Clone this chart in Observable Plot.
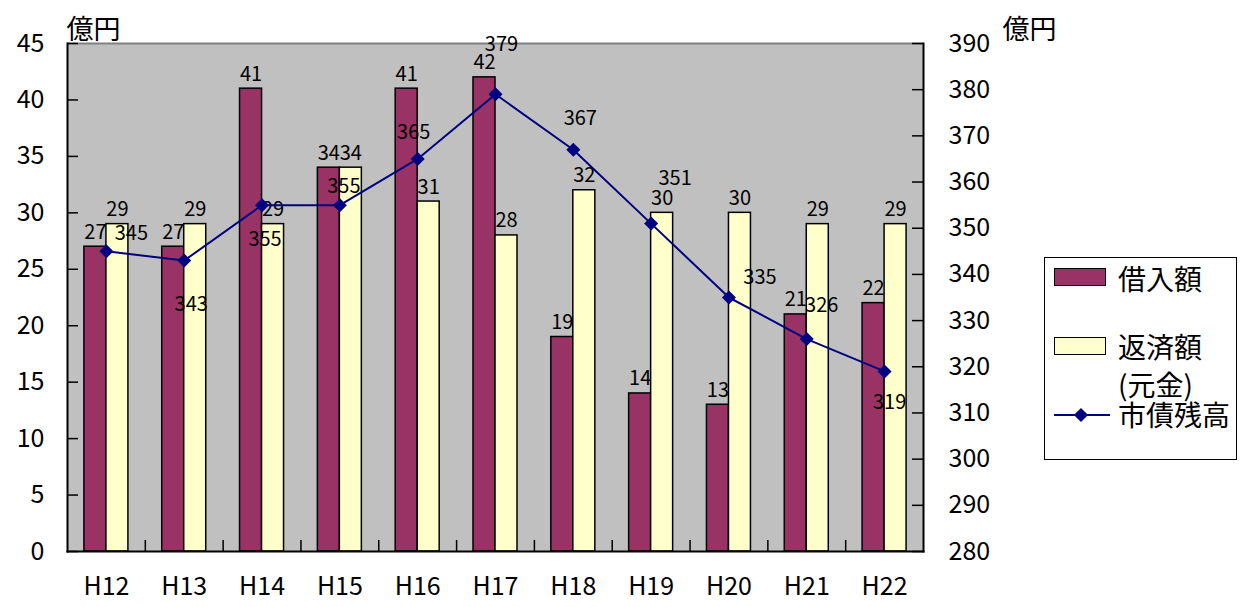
<!DOCTYPE html>
<html><head><meta charset="utf-8">
<script src="https://cdn.jsdelivr.net/npm/d3@7"></script>
<script src="https://cdn.jsdelivr.net/npm/@observablehq/plot@0.6"></script>
<style>
body{margin:0;background:#fff;font-family:"Noto Sans CJK JP",sans-serif;}
#wrap{position:relative;width:1248px;height:607px;overflow:hidden;}
#legend{position:absolute;left:1044px;top:257px;width:193px;height:203px;border:1.5px solid #000;box-sizing:border-box;background:#fff;}
#legend .sw{position:absolute;left:9px;width:52px;height:18px;border:1.5px solid #000;box-sizing:border-box;}
#legend .tx{position:absolute;left:73px;font-size:28px;line-height:28px;color:#000;white-space:nowrap;}
#legend .ln{position:absolute;left:9px;width:56px;height:2px;background:#000080;}
#legend .dm{position:absolute;width:10px;height:10px;background:#000080;transform:rotate(45deg);}
</style></head><body>
<div id="wrap">
<div id="chart"></div>
<div id="legend"></div>
</div>
<script>
// ---- data ----
const years = ["H12","H13","H14","H15","H16","H17","H18","H19","H20","H21","H22"];
const borrow = [27,27,41,34,41,42,19,14,13,21,22];           // 借入額
const repay = [29,29,29,34,31,28,32,30,30,29,29];            // 返済額(元金)
const balance = [345,343,355,355,365,379,367,351,335,326,319]; // 市債残高
const leftTicks = [0,5,10,15,20,25,30,35,40,45];
const rightTicks = [280,290,300,310,320,330,340,350,360,370,380,390];
const seriesNames = ["借入額","返済額","(元金)","市債残高"];
const unitLabel = "億円";

// ---- layout / style ----
const W = 1248, H = 607;
const mL = 67, mR = 325, mT = 43, mB = 56;
const plotW = W - mL - mR, plotH = H - mT - mB;
const bw = plotW / years.length;
const leftMax = 45, rMin = 280, rMax = 390;
const toLeft = v => (v - rMin) * leftMax / (rMax - rMin);
const font = "'Noto Sans CJK JP', sans-serif";
const maroon = "#993366", cream = "#FFFFCC", navy = "#000080";

const data = years.map((year, i) => ({year, borrow: borrow[i], repay: repay[i], balance: balance[i], i}));

// label placement for the line's value labels (dx, dy in px)
const lineLabelOffset = [[25,-18],[7,44],[3,34],[4,-19],[-4,-26],[6,-50],[7,-31],[24,-45],[31,-20],[15,-33],[5,31]];

const barHalf = 22;
const marks = [
  Plot.frame({fill: "#c0c0c0", stroke: null}),
  Plot.ruleY([leftMax], {stroke: "#808080", strokeWidth: 2}),
  Plot.barY(data, {x: "year", y: "borrow", fill: maroon, stroke: "#000", strokeWidth: 1.5,
    insetLeft: bw/2 - barHalf, insetRight: bw/2}),
  Plot.barY(data, {x: "year", y: "repay", fill: cream, stroke: "#000", strokeWidth: 1.5,
    insetLeft: bw/2, insetRight: bw/2 - barHalf}),
  Plot.frame({anchor: "left", stroke: "#000", strokeWidth: 2}),
  Plot.frame({anchor: "right", stroke: "#000", strokeWidth: 2}),
  Plot.frame({anchor: "bottom", stroke: "#000", strokeWidth: 2}),
  // inward ticks
  Plot.ruleY(leftTicks, {stroke: "#000", strokeWidth: 1.5, insetRight: plotW - 11}),
  Plot.ruleY(rightTicks.map(toLeft), {stroke: "#000", strokeWidth: 1.5, insetLeft: plotW - 11}),
  Plot.ruleX(years.slice(0, -1), {stroke: "#000", strokeWidth: 1.5, dx: bw/2, insetTop: plotH - 11}),
  // tick labels
  Plot.text(leftTicks, {y: d => d, text: d => String(d), frameAnchor: "left", textAnchor: "end", dx: -23,
    fontSize: 25, fill: "#000"}),
  Plot.text(rightTicks, {y: d => toLeft(d), text: d => String(d), frameAnchor: "right", textAnchor: "start", dx: 25,
    fontSize: 25, fill: "#000"}),
  Plot.text(years, {x: d => d, text: d => d, frameAnchor: "bottom", dy: 43, fontSize: 25, fill: "#000"}),
  // unit labels
  Plot.text([unitLabel], {frameAnchor: "top-left", textAnchor: "start", lineAnchor: "bottom", dx: -1, dy: -5,
    fontSize: 27, fill: "#000"}),
  Plot.text([unitLabel], {frameAnchor: "top-right", textAnchor: "start", lineAnchor: "bottom", dx: 79, dy: -5,
    fontSize: 27, fill: "#000"}),
  // bar value labels
  Plot.text(data, {x: "year", y: "borrow", text: d => String(d.borrow), dx: -11, dy: -8, lineAnchor: "bottom",
    fontSize: 20, fill: "#000"}),
  Plot.text(data, {x: "year", y: "repay", text: d => String(d.repay), dx: 11, dy: -8, lineAnchor: "bottom",
    fontSize: 20, fill: "#000"}),
  // line
  Plot.line(data, {x: "year", y: d => toLeft(d.balance), stroke: navy, strokeWidth: 2}),
  Plot.dot(data, {x: "year", y: d => toLeft(d.balance), symbol: "diamond2", r: 6.3, fill: navy, stroke: null}),
  ...data.map((d, i) => Plot.text([d], {x: "year", y: e => toLeft(e.balance), text: e => String(e.balance),
    dx: lineLabelOffset[i][0], dy: lineLabelOffset[i][1], fontSize: 20, fill: "#000"}))
];

const chart = Plot.plot({
  width: W, height: H,
  marginLeft: mL, marginRight: mR, marginTop: mT, marginBottom: mB,
  x: {type: "band", domain: years, padding: 0, round: false, axis: null},
  y: {domain: [0, leftMax], axis: null},
  style: {fontFamily: font, background: "#fff", overflow: "visible"},
  marks
});
document.getElementById("chart").appendChild(chart);

// legend
const lg = document.getElementById("legend");
lg.innerHTML = `
  <div class="sw" style="top:10px;background:${maroon}"></div>
  <div class="tx" style="top:6px">${seriesNames[0]}</div>
  <div class="sw" style="top:79px;background:${cream}"></div>
  <div class="tx" style="top:74px">${seriesNames[1]}</div>
  <div class="tx" style="top:112px">${seriesNames[2]}</div>
  <div class="ln" style="top:156px"></div>
  <div class="dm" style="left:31px;top:152px"></div>
  <div class="tx" style="top:142px">${seriesNames[3]}</div>
`;
</script>
</body></html>
